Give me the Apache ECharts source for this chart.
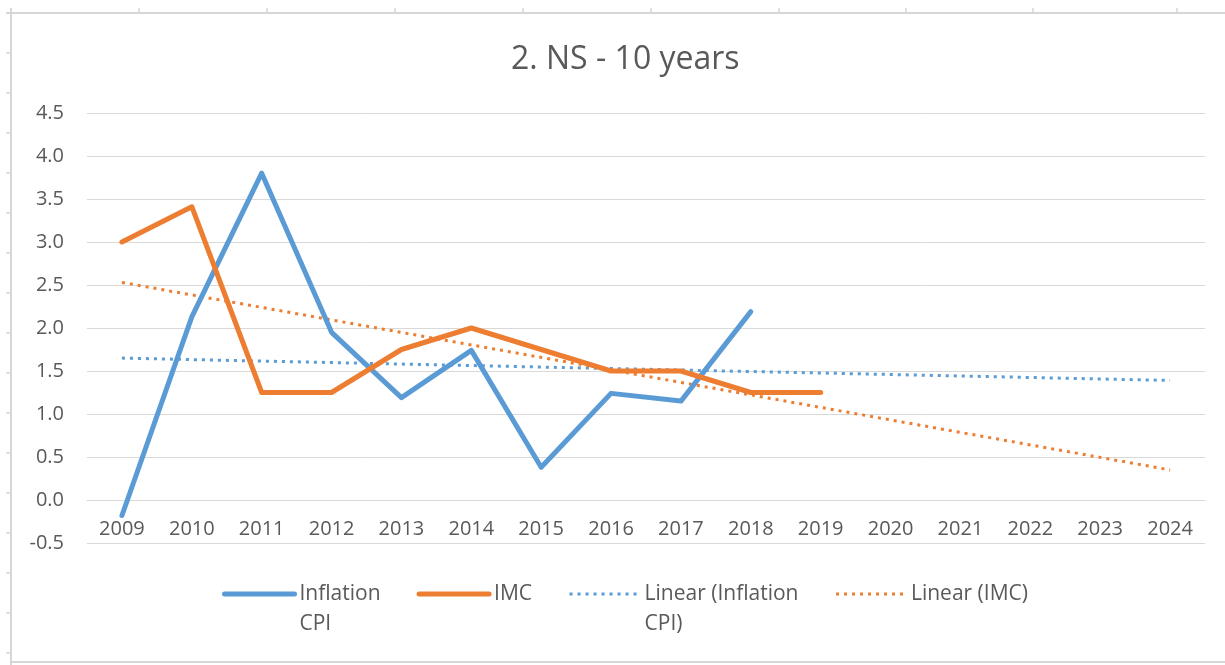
<!DOCTYPE html>
<html>
<head>
<meta charset="utf-8">
<script src="https://cdn.jsdelivr.net/npm/echarts@6/dist/echarts.min.js"></script>
<style>
  html, body { margin: 0; padding: 0; background: #fff; }
  #chart { width: 1225px; height: 665px; }
</style>
</head>
<body>
<div id="chart"></div>
<script>
// data
var years = ['2009', '2010', '2011', '2012', '2013', '2014', '2015', '2016',
             '2017', '2018', '2019', '2020', '2021', '2022', '2023', '2024'];
var inflationCpi = [-0.18, 2.13, 3.8, 1.95, 1.19, 1.74, 0.38, 1.24, 1.15, 2.19];
var imc = [3.0, 3.41, 1.25, 1.25, 1.75, 2.0, 1.75, 1.5, 1.5, 1.25, 1.25];
// linear trendlines, start and end values
var trendYears = ['2009', '2024'];
var cpiTrend = [1.65, 1.39];
var imcTrend = [2.53, 0.35];

var blue = '#5B9BD5';
var orange = '#ED7D31';
var txt = '#595959';
var font = 'Open Sans';
var sheetLine = '#d6d6d6';

function pairs(xs, ys) {
  return xs.map(function (x, i) { return [x, ys[i]]; });
}

// worksheet cell borders peeking out around the chart
var sheet = [
  { type: 'line', shape: { x1: 6, y1: 13, x2: 1225, y2: 13 }, style: { stroke: sheetLine, lineWidth: 2 } },
  { type: 'line', shape: { x1: 11, y1: 8, x2: 11, y2: 665 }, style: { stroke: sheetLine, lineWidth: 2 } },
  { type: 'line', shape: { x1: 11, y1: 662, x2: 1225, y2: 662 }, style: { stroke: sheetLine, lineWidth: 2 } }
];
[139, 267, 395, 523, 651, 779, 906, 1033, 1177].forEach(function (x) {
  sheet.push({ type: 'line', shape: { x1: x, y1: 8, x2: x, y2: 13 }, style: { stroke: sheetLine, lineWidth: 1.5 } });
});
for (var ry = 53; ry < 662; ry += 40) {
  sheet.push({ type: 'line', shape: { x1: 6, y1: ry, x2: 11, y2: ry }, style: { stroke: sheetLine, lineWidth: 1.5 } });
}

var chart = echarts.init(document.getElementById('chart'));
var option = {
  backgroundColor: '#fff',
  animation: false,
  title: {
    text: '2. NS - 10 years',
    left: 506,
    top: 39,
    textStyle: { fontFamily: font, fontSize: 32, fontWeight: 'normal', color: txt }
  },
  graphic: sheet,
  grid: { left: 87, right: 20, top: 113, bottom: 122 },
  xAxis: {
    type: 'category',
    data: years,
    boundaryGap: true,
    offset: -43,
    axisLine: { onZero: false, lineStyle: { color: '#d9d9d9', width: 1 } },
    axisTick: { show: false },
    axisLabel: { color: txt, fontFamily: font, fontSize: 20, margin: 19 },
    splitLine: { show: false }
  },
  yAxis: {
    type: 'value',
    min: -0.5,
    max: 4.5,
    interval: 0.5,
    axisLine: { show: false },
    axisTick: { show: false },
    axisLabel: {
      color: txt, fontFamily: font, fontSize: 20, margin: 23,
      formatter: function (v) { return v.toFixed(1); }
    },
    splitLine: { lineStyle: { color: '#d9d9d9', width: 1 } }
  },
  legend: {
    left: 222,
    top: 549,
    padding: 0,
    itemWidth: 70,
    itemHeight: 14,
    itemGap: 36,
    itemStyle: { opacity: 0 },
    textStyle: { color: txt, fontFamily: font, fontSize: 21, lineHeight: 30 },
    // Excel wraps the long names; keep the first line level with the icon
    formatter: function (name) {
      return name.indexOf(' CPI') > -1 ? '\n' + name.replace(' CPI', '\nCPI') : name;
    },
    data: [
      { name: 'Inflation CPI', lineStyle: { width: 5 } },
      { name: 'IMC', lineStyle: { width: 5 } },
      { name: 'Linear (Inflation CPI)', lineStyle: { width: 3 } },
      { name: 'Linear (IMC)', lineStyle: { width: 3 } }
    ]
  },
  series: [
    {
      name: 'Linear (Inflation CPI)',
      type: 'line',
      data: pairs(trendYears, cpiTrend),
      symbol: 'none',
      lineStyle: { color: blue, width: 3, type: [3, 5], cap: 'butt' },
      itemStyle: { color: blue },
      z: 1
    },
    {
      name: 'Linear (IMC)',
      type: 'line',
      data: pairs(trendYears, imcTrend),
      symbol: 'none',
      lineStyle: { color: orange, width: 3, type: [3, 5], cap: 'butt' },
      itemStyle: { color: orange },
      z: 1
    },
    {
      name: 'Inflation CPI',
      type: 'line',
      data: inflationCpi,
      symbol: 'none',
      lineStyle: { color: blue, width: 5, cap: 'round', join: 'round' },
      itemStyle: { color: blue },
      z: 2
    },
    {
      name: 'IMC',
      type: 'line',
      data: imc,
      symbol: 'none',
      lineStyle: { color: orange, width: 5, cap: 'round', join: 'round' },
      itemStyle: { color: orange },
      z: 3
    }
  ]
};
chart.setOption(option);
</script>
</body>
</html>
